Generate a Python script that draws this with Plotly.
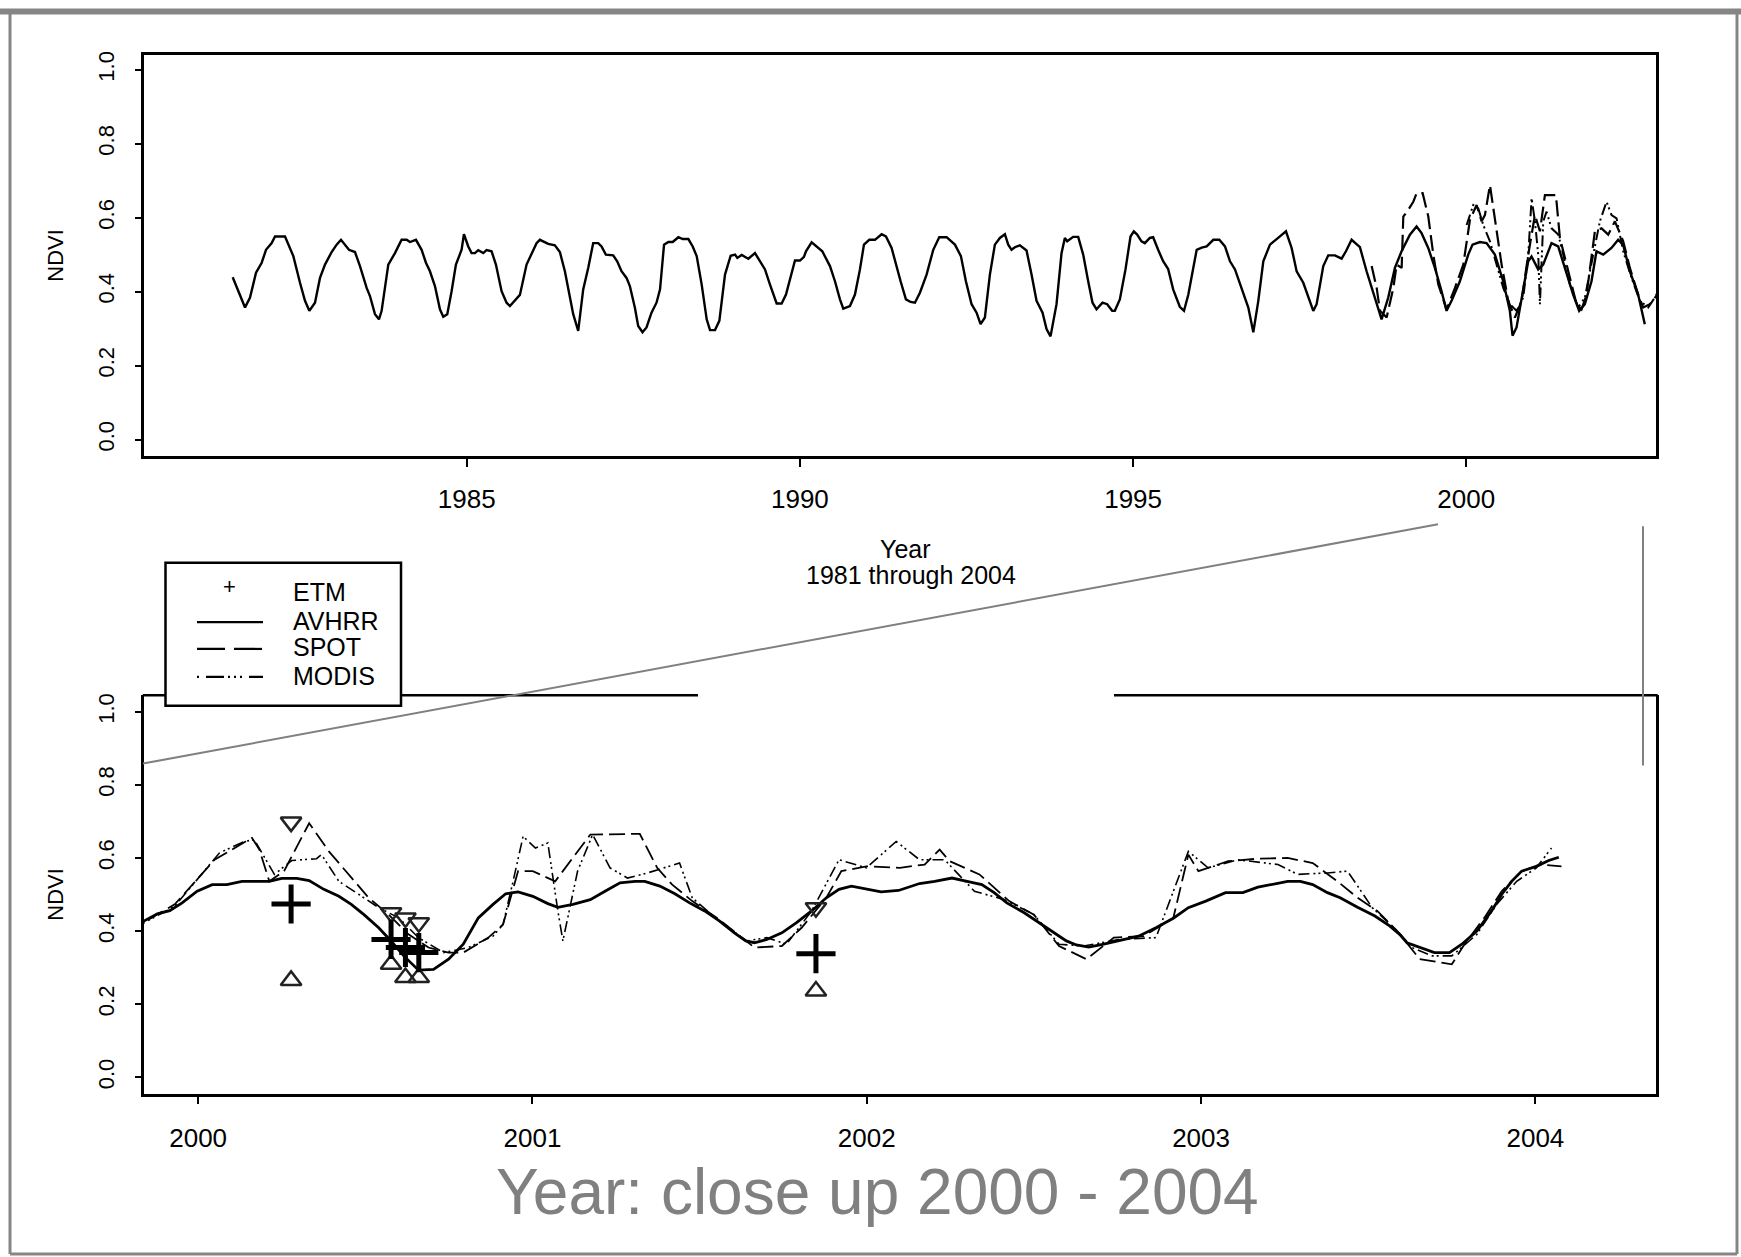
import plotly.graph_objects as go

W, H = 1741, 1257

# ---------------- data (year, NDVI) ----------------
AVHRR_TOP = [
    (1981.488, 0.439), (1981.598, 0.388), (1981.673, 0.357), (1981.748, 0.384), (1981.838, 0.451),
    (1981.923, 0.478), (1981.988, 0.513), (1982.073, 0.531), (1982.123, 0.549), (1982.273, 0.549),
    (1982.398, 0.496), (1982.498, 0.424), (1982.573, 0.375), (1982.638, 0.348), (1982.723, 0.370),
    (1982.798, 0.437), (1982.873, 0.473), (1982.973, 0.507), (1983.048, 0.527), (1983.113, 0.540),
    (1983.173, 0.527), (1983.233, 0.513), (1983.323, 0.507), (1983.398, 0.469), (1983.498, 0.410),
    (1983.548, 0.388), (1983.623, 0.339), (1983.683, 0.325), (1983.723, 0.348), (1983.823, 0.473),
    (1983.923, 0.504), (1984.023, 0.540), (1984.098, 0.540), (1984.148, 0.534), (1984.238, 0.540),
    (1984.323, 0.513), (1984.388, 0.478), (1984.448, 0.455), (1984.523, 0.415), (1984.598, 0.352),
    (1984.648, 0.332), (1984.708, 0.339), (1984.773, 0.401), (1984.838, 0.473), (1984.923, 0.513),
    (1984.958, 0.555), (1985.023, 0.522), (1985.073, 0.504), (1985.123, 0.504), (1985.173, 0.512),
    (1985.248, 0.504), (1985.298, 0.512), (1985.373, 0.509), (1985.438, 0.473), (1985.523, 0.401),
    (1985.598, 0.370), (1985.648, 0.361), (1985.723, 0.375), (1985.798, 0.391), (1985.898, 0.473),
    (1985.973, 0.500), (1986.048, 0.531), (1986.098, 0.540), (1986.173, 0.533), (1986.223, 0.529),
    (1986.323, 0.525), (1986.398, 0.507), (1986.473, 0.455), (1986.548, 0.388), (1986.598, 0.339),
    (1986.673, 0.294), (1986.748, 0.406), (1986.823, 0.464), (1986.898, 0.531), (1986.973, 0.531),
    (1987.023, 0.522), (1987.088, 0.500), (1987.198, 0.498), (1987.258, 0.482), (1987.323, 0.455),
    (1987.398, 0.437), (1987.448, 0.415), (1987.523, 0.357), (1987.573, 0.307), (1987.638, 0.290),
    (1987.698, 0.303), (1987.773, 0.343), (1987.848, 0.370), (1987.901, 0.406), (1987.961, 0.527),
    (1988.026, 0.534), (1988.091, 0.534), (1988.176, 0.547), (1988.241, 0.542), (1988.326, 0.542),
    (1988.391, 0.522), (1988.451, 0.496), (1988.526, 0.419), (1988.601, 0.325), (1988.651, 0.296),
    (1988.726, 0.296), (1988.791, 0.321), (1988.876, 0.446), (1988.961, 0.497), (1989.026, 0.500),
    (1989.061, 0.491), (1989.126, 0.499), (1989.226, 0.489), (1989.326, 0.504), (1989.401, 0.482),
    (1989.476, 0.460), (1989.551, 0.419), (1989.626, 0.379), (1989.651, 0.368), (1989.726, 0.368),
    (1989.791, 0.392), (1989.926, 0.484), (1990.001, 0.484), (1990.061, 0.494), (1990.091, 0.509),
    (1990.176, 0.533), (1990.251, 0.522), (1990.336, 0.509), (1990.451, 0.469), (1990.526, 0.428),
    (1990.601, 0.379), (1990.651, 0.354), (1990.751, 0.361), (1990.826, 0.392), (1990.901, 0.460),
    (1990.961, 0.527), (1991.041, 0.540), (1991.126, 0.540), (1991.226, 0.555), (1991.291, 0.549),
    (1991.376, 0.518), (1991.441, 0.473), (1991.511, 0.428), (1991.591, 0.379), (1991.661, 0.372),
    (1991.726, 0.370), (1991.801, 0.397), (1991.901, 0.446), (1992.001, 0.513), (1992.091, 0.547),
    (1992.201, 0.547), (1992.326, 0.527), (1992.416, 0.496), (1992.491, 0.428), (1992.576, 0.366),
    (1992.651, 0.343), (1992.711, 0.312), (1992.776, 0.330), (1992.851, 0.446), (1992.926, 0.527),
    (1993.001, 0.545), (1993.076, 0.555), (1993.126, 0.527), (1993.176, 0.513), (1993.226, 0.520),
    (1993.301, 0.525), (1993.401, 0.511), (1993.476, 0.446), (1993.551, 0.375), (1993.641, 0.343),
    (1993.701, 0.299), (1993.761, 0.279), (1993.851, 0.366), (1993.926, 0.504), (1993.976, 0.545),
    (1994.011, 0.536), (1994.101, 0.548), (1994.176, 0.548), (1994.251, 0.500), (1994.326, 0.428),
    (1994.391, 0.370), (1994.451, 0.352), (1994.541, 0.370), (1994.611, 0.366), (1994.686, 0.348),
    (1994.726, 0.348), (1994.801, 0.379), (1994.886, 0.460), (1994.961, 0.549), (1995.011, 0.563),
    (1995.061, 0.554), (1995.126, 0.536), (1995.176, 0.531), (1995.251, 0.545), (1995.301, 0.547),
    (1995.376, 0.513), (1995.451, 0.482), (1995.526, 0.461), (1995.601, 0.406), (1995.701, 0.359),
    (1995.764, 0.348), (1995.829, 0.392), (1995.954, 0.513), (1996.029, 0.519), (1996.104, 0.522),
    (1996.204, 0.540), (1996.294, 0.540), (1996.379, 0.522), (1996.454, 0.482), (1996.529, 0.460),
    (1996.629, 0.410), (1996.729, 0.357), (1996.804, 0.290), (1996.879, 0.375), (1996.954, 0.482),
    (1997.054, 0.527), (1997.154, 0.542), (1997.204, 0.549), (1997.294, 0.563), (1997.379, 0.518),
    (1997.454, 0.455), (1997.554, 0.424), (1997.629, 0.384), (1997.704, 0.348), (1997.754, 0.366),
    (1997.854, 0.469), (1997.929, 0.498), (1998.029, 0.498), (1998.129, 0.489), (1998.194, 0.509),
    (1998.279, 0.540), (1998.404, 0.520), (1998.504, 0.455), (1998.654, 0.366), (1998.729, 0.325),
    (1998.829, 0.384), (1998.929, 0.464), (1999.029, 0.509), (1999.154, 0.554), (1999.254, 0.576),
    (1999.329, 0.558), (1999.429, 0.518), (1999.529, 0.464), (1999.629, 0.401), (1999.704, 0.348),
    (1999.779, 0.375), (1999.904, 0.428), (2000.029, 0.500), (2000.094, 0.527), (2000.204, 0.534),
    (2000.304, 0.531), (2000.429, 0.500), (2000.554, 0.428), (2000.654, 0.348), (2000.694, 0.281),
    (2000.754, 0.303), (2000.854, 0.410), (2000.929, 0.482), (2000.979, 0.495), (2001.079, 0.460),
    (2001.154, 0.473), (2001.279, 0.531), (2001.379, 0.522), (2001.479, 0.464), (2001.604, 0.392),
    (2001.694, 0.348), (2001.779, 0.366), (2001.879, 0.428), (2001.954, 0.509), (2002.054, 0.500),
    (2002.179, 0.518), (2002.279, 0.540), (2002.354, 0.527), (2002.454, 0.455), (2002.579, 0.392),
    (2002.679, 0.312),
]

SPOT_TOP = [
    (1998.580, 0.469), (1998.655, 0.410), (1998.705, 0.348), (1998.805, 0.330), (1998.905, 0.410),
    (1998.955, 0.473), (1999.030, 0.464), (1999.055, 0.603), (1999.130, 0.621), (1999.205, 0.643),
    (1999.255, 0.666), (1999.345, 0.666), (1999.430, 0.603), (1999.505, 0.500), (1999.580, 0.419),
    (1999.705, 0.352), (1999.830, 0.410), (1999.955, 0.473), (2000.055, 0.594), (2000.155, 0.634),
    (2000.230, 0.590), (2000.280, 0.607), (2000.355, 0.688), (2000.430, 0.590), (2000.530, 0.473),
    (2000.630, 0.375), (2000.730, 0.330), (2000.830, 0.375), (2000.930, 0.500), (2001.030, 0.607),
    (2001.105, 0.563), (2001.180, 0.661), (2001.345, 0.661), (2001.405, 0.545), (2001.530, 0.455),
    (2001.655, 0.366), (2001.730, 0.352), (2001.805, 0.392), (2001.930, 0.563), (2002.030, 0.571),
    (2002.130, 0.554), (2002.230, 0.590), (2002.355, 0.536), (2002.455, 0.464), (2002.580, 0.392),
    (2002.655, 0.357), (2002.755, 0.366), (2002.905, 0.401),
]

MODIS_TOP = [
    (2000.005, 0.580), (2000.105, 0.634), (2000.180, 0.625), (2000.255, 0.580), (2000.355, 0.536),
    (2000.455, 0.473), (2000.555, 0.410), (2000.655, 0.366), (2000.755, 0.348), (2000.855, 0.384),
    (2000.930, 0.500), (2000.980, 0.652), (2001.030, 0.590), (2001.080, 0.500), (2001.105, 0.366),
    (2001.155, 0.590), (2001.205, 0.616), (2001.280, 0.571), (2001.380, 0.554), (2001.455, 0.500),
    (2001.555, 0.419), (2001.680, 0.357), (2001.780, 0.384), (2001.905, 0.500), (2002.005, 0.590),
    (2002.105, 0.643), (2002.180, 0.607), (2002.255, 0.598), (2002.355, 0.509), (2002.480, 0.437),
    (2002.605, 0.375), (2002.730, 0.357), (2002.830, 0.384), (2002.905, 0.410),
]

AVHRR_CLOSE = [
    (1999.766, 0.402), (1999.796, 0.402), (1999.833, 0.425), (1999.878, 0.447), (1999.915, 0.456),
    (1999.952, 0.477), (1999.997, 0.509), (2000.042, 0.527), (2000.086, 0.527), (2000.131, 0.536),
    (2000.213, 0.536), (2000.250, 0.544), (2000.295, 0.544), (2000.332, 0.538), (2000.376, 0.514),
    (2000.421, 0.495), (2000.458, 0.473), (2000.496, 0.445), (2000.540, 0.409), (2000.577, 0.373),
    (2000.615, 0.332), (2000.659, 0.293), (2000.704, 0.295), (2000.749, 0.323), (2000.793, 0.364),
    (2000.838, 0.436), (2000.882, 0.473), (2000.920, 0.502), (2000.957, 0.507), (2001.001, 0.495),
    (2001.046, 0.475), (2001.076, 0.465), (2001.121, 0.473), (2001.173, 0.486), (2001.217, 0.509),
    (2001.262, 0.532), (2001.307, 0.536), (2001.336, 0.536), (2001.381, 0.523), (2001.426, 0.502),
    (2001.470, 0.477), (2001.515, 0.455), (2001.560, 0.427), (2001.604, 0.395), (2001.638, 0.373),
    (2001.664, 0.368), (2001.701, 0.377), (2001.746, 0.395), (2001.790, 0.423), (2001.835, 0.455),
    (2001.879, 0.491), (2001.917, 0.514), (2001.954, 0.523), (2001.999, 0.514), (2002.043, 0.507),
    (2002.095, 0.511), (2002.158, 0.530), (2002.203, 0.536), (2002.255, 0.545), (2002.300, 0.536),
    (2002.344, 0.527), (2002.381, 0.505), (2002.419, 0.477), (2002.471, 0.450), (2002.515, 0.423),
    (2002.560, 0.396), (2002.597, 0.373), (2002.627, 0.362), (2002.664, 0.356), (2002.709, 0.364),
    (2002.753, 0.373), (2002.813, 0.386), (2002.865, 0.409), (2002.917, 0.435), (2002.962, 0.464),
    (2003.014, 0.482), (2003.073, 0.505), (2003.125, 0.505), (2003.170, 0.520), (2003.215, 0.529),
    (2003.259, 0.536), (2003.297, 0.536), (2003.334, 0.527), (2003.378, 0.505), (2003.416, 0.491),
    (2003.468, 0.465), (2003.520, 0.441), (2003.564, 0.414), (2003.594, 0.391), (2003.616, 0.368),
    (2003.654, 0.355), (2003.698, 0.341), (2003.743, 0.341), (2003.780, 0.364), (2003.825, 0.400),
    (2003.869, 0.455), (2003.899, 0.500), (2003.929, 0.536), (2003.959, 0.564), (2004.003, 0.577),
    (2004.040, 0.593), (2004.070, 0.602),
]

SPOT_CLOSE = [
    (1999.796, 0.402), (1999.930, 0.473), (2000.049, 0.595), (2000.161, 0.655), (2000.183, 0.623),
    (2000.213, 0.536), (2000.257, 0.564), (2000.332, 0.695), (2000.391, 0.618), (2000.451, 0.555),
    (2000.510, 0.491), (2000.570, 0.445), (2000.629, 0.391), (2000.689, 0.355), (2000.749, 0.341),
    (2000.793, 0.341), (2000.868, 0.382), (2000.912, 0.418), (2000.957, 0.564), (2001.001, 0.564),
    (2001.068, 0.536), (2001.173, 0.664), (2001.321, 0.666), (2001.373, 0.573), (2001.418, 0.527),
    (2001.478, 0.482), (2001.552, 0.436), (2001.626, 0.382), (2001.664, 0.355), (2001.746, 0.359),
    (2001.805, 0.409), (2001.879, 0.491), (2001.924, 0.564), (2001.999, 0.577), (2002.099, 0.573),
    (2002.173, 0.582), (2002.218, 0.623), (2002.248, 0.591), (2002.337, 0.555), (2002.426, 0.482),
    (2002.500, 0.445), (2002.575, 0.359), (2002.657, 0.323), (2002.739, 0.382), (2002.828, 0.386),
    (2002.917, 0.436), (2002.962, 0.609), (2002.992, 0.564), (2003.081, 0.591), (2003.170, 0.598),
    (2003.259, 0.600), (2003.334, 0.586), (2003.408, 0.536), (2003.468, 0.491), (2003.527, 0.455),
    (2003.587, 0.400), (2003.654, 0.323), (2003.750, 0.309), (2003.788, 0.364), (2003.847, 0.436),
    (2003.899, 0.509), (2003.959, 0.564), (2004.018, 0.582), (2004.078, 0.577),
]

MODIS_CLOSE = [
    (1999.811, 0.409), (1999.930, 0.468), (2000.064, 0.614), (2000.138, 0.645), (2000.168, 0.650),
    (2000.228, 0.555), (2000.280, 0.593), (2000.354, 0.598), (2000.369, 0.609), (2000.421, 0.536),
    (2000.481, 0.500), (2000.540, 0.464), (2000.600, 0.436), (2000.659, 0.382), (2000.734, 0.341),
    (2000.808, 0.355), (2000.882, 0.386), (2000.912, 0.418), (2000.942, 0.536), (2000.972, 0.659),
    (2001.009, 0.627), (2001.046, 0.641), (2001.076, 0.455), (2001.091, 0.373), (2001.135, 0.564),
    (2001.180, 0.664), (2001.232, 0.573), (2001.284, 0.545), (2001.344, 0.559), (2001.440, 0.586),
    (2001.478, 0.491), (2001.552, 0.432), (2001.641, 0.373), (2001.701, 0.382), (2001.760, 0.364),
    (2001.835, 0.455), (2001.917, 0.595), (2001.999, 0.573), (2002.088, 0.645), (2002.158, 0.595),
    (2002.233, 0.595), (2002.322, 0.509), (2002.411, 0.486), (2002.500, 0.445), (2002.575, 0.364),
    (2002.649, 0.359), (2002.753, 0.377), (2002.865, 0.382), (2002.962, 0.618), (2003.021, 0.573),
    (2003.111, 0.595), (2003.230, 0.582), (2003.289, 0.555), (2003.378, 0.559), (2003.438, 0.564),
    (2003.512, 0.464), (2003.587, 0.400), (2003.631, 0.355), (2003.691, 0.332), (2003.750, 0.332),
    (2003.825, 0.391), (2003.884, 0.473), (2003.944, 0.536), (2004.003, 0.573), (2004.048, 0.627),
]

ETM_YEAR = [2000.278, 2000.577, 2000.620, 2000.660, 2001.848]
ETM_NDVI = [0.474, 0.377, 0.355, 0.341, 0.338]
ETM_UPPER = [0.698, 0.450, 0.436, 0.423, 0.464]
ETM_LOWER = [0.265, 0.309, 0.273, 0.273, 0.236]

TOP_TICKS = [1985, 1990, 1995, 2000]
CLOSE_TICKS = [2000, 2001, 2002, 2003, 2004]
NDVI_TICKS = [0.0, 0.2, 0.4, 0.6, 0.8, 1.0]
NDVI_LABELS = ["0.0", "0.2", "0.4", "0.6", "0.8", "1.0"]
LEGEND_NAMES = ["ETM", "AVHRR", "SPOT", "MODIS"]

# ---------------- styles ----------------
FONT = "Liberation Sans, Arial, Helvetica, sans-serif"
SPOT_DASH = "16px,6px"
MODIS_DASH = "11px,4px,2px,3px,2px,4px"
GRAY = "#808080"


def xs(pairs):
    return [p[0] for p in pairs]


def ys(pairs):
    return [p[1] for p in pairs]


def px(x):
    return x / W


def py(y):
    return 1 - y / H


fig = go.Figure()

# top panel
fig.add_trace(go.Scatter(x=xs(AVHRR_TOP), y=ys(AVHRR_TOP), mode="lines", name="AVHRR",
                         line=dict(color="black", width=2.4), xaxis="x", yaxis="y"))
fig.add_trace(go.Scatter(x=xs(SPOT_TOP), y=ys(SPOT_TOP), mode="lines", name="SPOT",
                         line=dict(color="black", width=2.2, dash=SPOT_DASH), xaxis="x", yaxis="y"))
fig.add_trace(go.Scatter(x=xs(MODIS_TOP), y=ys(MODIS_TOP), mode="lines", name="MODIS",
                         line=dict(color="black", width=2.0, dash=MODIS_DASH), xaxis="x", yaxis="y"))

# close-up panel
fig.add_trace(go.Scatter(x=xs(SPOT_CLOSE), y=ys(SPOT_CLOSE), mode="lines", name="SPOT",
                         line=dict(color="black", width=1.8, dash=SPOT_DASH), xaxis="x2", yaxis="y2"))
fig.add_trace(go.Scatter(x=xs(MODIS_CLOSE), y=ys(MODIS_CLOSE), mode="lines", name="MODIS",
                         line=dict(color="black", width=1.6, dash=MODIS_DASH), xaxis="x2", yaxis="y2"))
fig.add_trace(go.Scatter(x=xs(AVHRR_CLOSE), y=ys(AVHRR_CLOSE), mode="lines", name="AVHRR",
                         line=dict(color="black", width=2.8), xaxis="x2", yaxis="y2"))
fig.add_trace(go.Scatter(x=ETM_YEAR, y=ETM_UPPER, mode="markers", name="ETM upper",
                         marker=dict(symbol="triangle-down-open", size=18, color="#222",
                                     line=dict(width=2.5, color="#222")), xaxis="x2", yaxis="y2"))
fig.add_trace(go.Scatter(x=ETM_YEAR, y=ETM_LOWER, mode="markers", name="ETM lower",
                         marker=dict(symbol="triangle-up-open", size=18, color="#222",
                                     line=dict(width=2.5, color="#222")), xaxis="x2", yaxis="y2"))
fig.add_trace(go.Scatter(x=ETM_YEAR, y=ETM_NDVI, mode="markers", name="ETM",
                         marker=dict(symbol="cross-thin", size=28, color="black",
                                     line=dict(width=5, color="black")), xaxis="x2", yaxis="y2"))

axis_common = dict(showline=True, linecolor="black", linewidth=2.5, ticks="outside",
                   tickcolor="black", tickwidth=2, showgrid=False, zeroline=False)
XDOM = [px(144), px(1656.4)]

fig.update_layout(
    width=W, height=H, margin=dict(l=0, r=0, t=0, b=0),
    paper_bgcolor="white", plot_bgcolor="white", showlegend=False,
    font=dict(family=FONT, color="black"),
    xaxis=dict(domain=XDOM, range=[1980.157, 2002.853], tickvals=TOP_TICKS, ticklen=8,
               mirror=True, anchor="y", tickfont=dict(size=26), ticklabelstandoff=10, **axis_common),
    yaxis=dict(domain=[py(453.3), py(51)], range=[-0.044, 1.040], tickvals=NDVI_TICKS,
               ticktext=NDVI_LABELS, tickangle=-90, ticklen=6, mirror=True, anchor="x",
               tickfont=dict(size=22), ticklabelstandoff=12, **axis_common),
    xaxis2=dict(domain=XDOM, range=[1999.838, 2004.362], tickvals=CLOSE_TICKS, ticklen=8,
                mirror=False, anchor="y2", tickfont=dict(size=26), ticklabelstandoff=12, **axis_common),
    yaxis2=dict(domain=[py(1093), py(693.5)], range=[-0.0445, 1.045], tickvals=NDVI_TICKS,
                ticktext=NDVI_LABELS, tickangle=-90, ticklen=6, mirror=True, anchor="x2",
                tickfont=dict(size=22), ticklabelstandoff=12, **axis_common),
)

shapes = []
# slide frame
shapes.append(dict(type="line", xref="paper", yref="paper", x0=px(0), x1=px(W), y0=py(7.5), y1=py(7.5),
                   line=dict(color="#858585", width=6)))
shapes.append(dict(type="line", xref="paper", yref="paper", x0=px(10), x1=px(10), y0=py(7), y1=py(1254),
                   line=dict(color="#858585", width=3)))
shapes.append(dict(type="line", xref="paper", yref="paper", x0=px(1737), x1=px(1737), y0=py(7), y1=py(1254),
                   line=dict(color="#858585", width=3)))
shapes.append(dict(type="line", xref="paper", yref="paper", x0=px(10), x1=px(1737), y0=py(1254), y1=py(1254),
                   line=dict(color="#858585", width=3)))
# close-up panel top border (interrupted)
for a, b in [(142.8, 698), (1114, 1657.6)]:
    shapes.append(dict(type="line", xref="paper", yref="paper", x0=px(a), x1=px(b), y0=py(693.5), y1=py(693.5),
                       line=dict(color="black", width=2.5), layer="above"))
# zoom call-out lines
shapes.append(dict(type="line", xref="paper", yref="paper", x0=px(1438), y0=py(522), x1=px(143), y1=py(762),
                   line=dict(color=GRAY, width=2), layer="above"))
shapes.append(dict(type="line", xref="paper", yref="paper", x0=px(1643), y0=py(524), x1=px(1643), y1=py(764),
                   line=dict(color=GRAY, width=2), layer="above"))
# legend box
shapes.append(dict(type="rect", xref="paper", yref="paper", x0=px(165.5), x1=px(401), y0=py(704), y1=py(560.5),
                   fillcolor="white", line=dict(color="black", width=2.5), layer="above"))
legend_rows = [620, 647, 675]
legend_dash = ["solid", "28px,9px", "2px,7px,18px,4px,2px,4px,2px,4px"]
for yy, dd in zip(legend_rows, legend_dash):
    shapes.append(dict(type="line", xref="paper", yref="paper", x0=px(197), x1=px(263), y0=py(yy), y1=py(yy),
                       line=dict(color="black", width=2.2, dash=dd), layer="above"))
fig.update_layout(shapes=shapes)

ann = []


def text(x, y, s, size, color="black", angle=0, xanchor="center"):
    ann.append(dict(xref="paper", yref="paper", x=px(x), y=py(y), text=s, showarrow=False,
                    font=dict(size=size, color=color, family=FONT), textangle=angle,
                    xanchor=xanchor, yanchor="middle", borderpad=0))


text(55.5, 252, "NDVI", 22, angle=-90)
text(55.5, 893, "NDVI", 22, angle=-90)
text(905, 546.5, "Year", 25)
text(910.5, 573, "1981 through 2004", 25)
text(877, 1192, "Year: close up 2000 - 2004", 64, color=GRAY)
text(229, 584, "+", 22)
for name, yy in zip(LEGEND_NAMES, [589.5, 618.7, 645.3, 673.7]):
    text(292, yy, name, 25, xanchor="left")
fig.update_layout(annotations=ann)

fig.write_html("out.html")
